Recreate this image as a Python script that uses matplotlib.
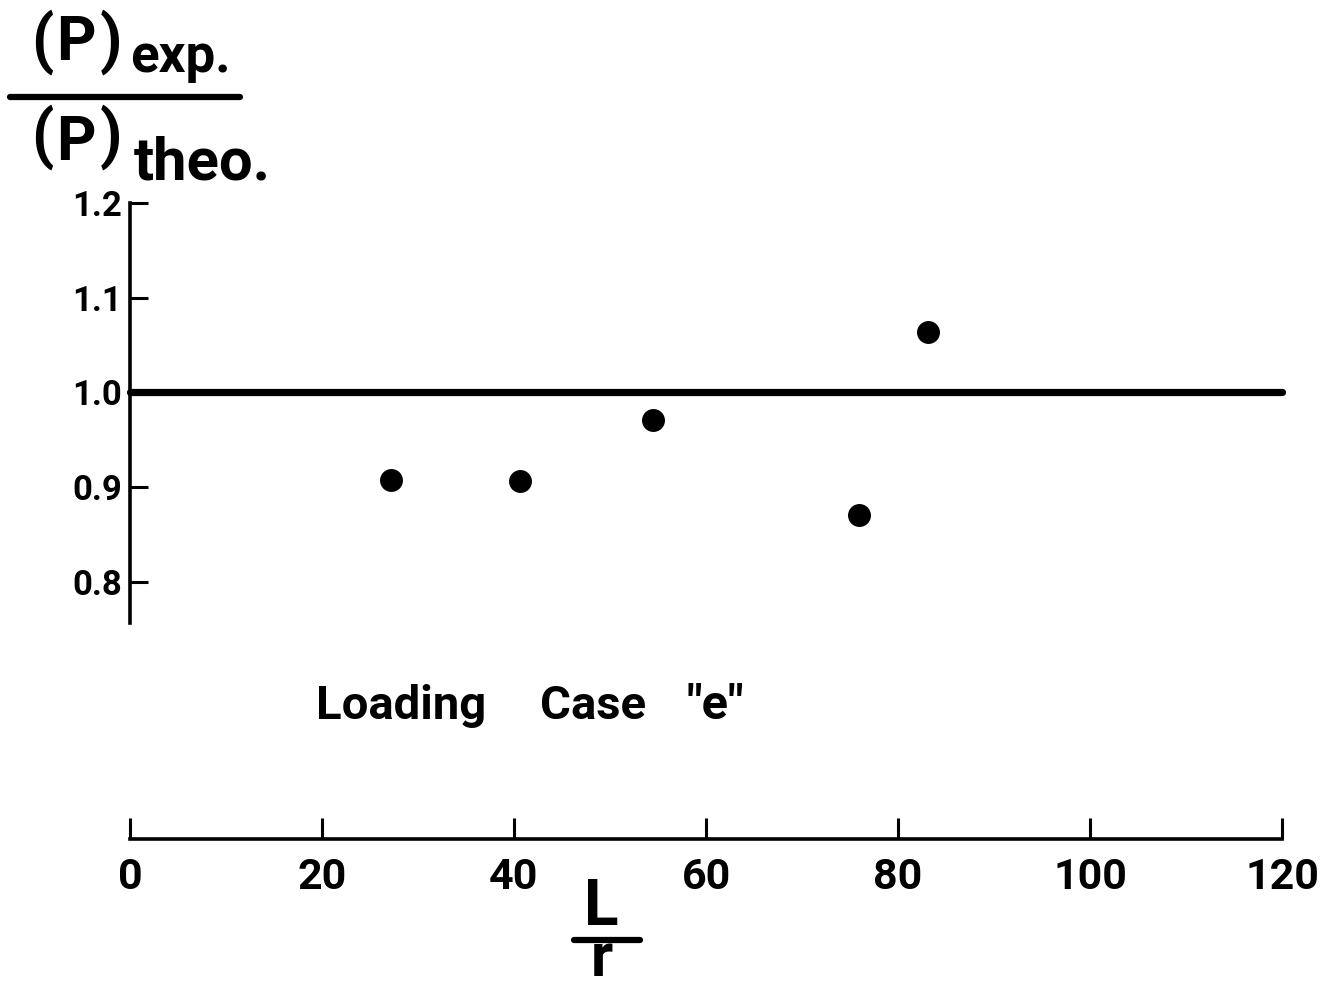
import numpy as np
import matplotlib
matplotlib.use('Agg')
import matplotlib.pyplot as plt
from matplotlib.lines import Line2D

'''DATA'''
slenderness = [27.2, 40.6, 54.5, 75.9, 83.1]
load_ratio = [0.908, 0.906, 0.971, 0.871, 1.064]
theory_x = [0, 120]
theory_y = [1.0, 1.0]
x_ticks = [0, 20, 40, 60, 80, 100, 120]
x_ticklabels = ['0', '20', '40', '60', '80', '100', '120']
y_ticks = [0.8, 0.9, 1.0, 1.1, 1.2]
y_ticklabels = ['0.8', '0.9', '1.0', '1.1', '1.2']

W, H = 1333, 991
plt.rcParams['font.family'] = ['Roboto', 'DejaVu Sans']
plt.rcParams['font.weight'] = 'bold'

fig = plt.figure(figsize=(W / 100, H / 100), dpi=100)
fig.patch.set_facecolor('white')

'''AXES'''
ax = fig.add_axes([130 / W, 1 - 866 / H, 1152 / W, 663 / H])
ax.set_xlim(0, 120)
ax.set_ylim(0.5, 1.2)

ax.plot(theory_x, theory_y, color='black', linewidth=5.2, solid_capstyle='round', clip_on=False)
ax.plot(slenderness, load_ratio, linestyle='none', marker='o', markersize=15.5,
        color='black', clip_on=False)

for side in ['top', 'right']:
    ax.spines[side].set_visible(False)
ax.spines['left'].set_bounds(0.757, 1.2)
ax.spines['bottom'].set_position(('data', 0.529))
ax.spines['bottom'].set_bounds(0, 120)
for side in ['left', 'bottom']:
    ax.spines[side].set_linewidth(2.6)

ax.set_xticks(x_ticks)
ax.set_xticklabels(x_ticklabels)
ax.set_yticks(y_ticks)
ax.set_yticklabels(y_ticklabels)
ax.tick_params(axis='x', direction='in', length=15, width=2.2, pad=13, labelsize=31)
ax.tick_params(axis='y', direction='in', length=13, width=2.2, pad=6, labelsize=25)
for lab in ax.get_xticklabels() + ax.get_yticklabels():
    lab.set_fontweight('bold')

'''LABELS'''
def px(x, y):
    return x / W, 1 - y / H

# y label as a fraction (P)exp. / (P)theo.
for yc, yb in [(42, 60), (137, 160)]:
    fig.text(*px(42, yc), '(', fontsize=46, fontweight='bold', ha='center', va='center')
    fig.text(*px(76, yb), 'P', fontsize=44, fontweight='bold', ha='center', va='baseline')
    fig.text(*px(111, yc), ')', fontsize=46, fontweight='bold', ha='center', va='center')
fig.text(*px(130, 72), 'exp.', fontsize=38, fontweight='bold', ha='left', va='baseline')
fig.add_artist(Line2D([10 / W, 240 / W], [1 - 97 / H, 1 - 97 / H], color='black',
                      linewidth=4.5, solid_capstyle='round'))
fig.text(*px(134, 180), 'theo.', fontsize=43, fontweight='bold', ha='left', va='baseline')

fig.text(*px(316, 706), 'Loading', fontsize=34, fontweight='bold', ha='left', va='center')
fig.text(*px(540, 706), 'Case', fontsize=34, fontweight='bold', ha='left', va='center')
fig.text(*px(686, 706), '"e"', fontsize=35, fontweight='bold', ha='left', va='center')

# x label L / r
fig.text(*px(601, 925), 'L', fontsize=46, fontweight='bold', ha='center', va='baseline')
fig.add_artist(Line2D([574 / W, 640 / W], [1 - 940 / H, 1 - 940 / H], color='black',
                      linewidth=4.5, solid_capstyle='round'))
fig.text(*px(602, 976), 'r', fontsize=44, fontweight='bold', ha='center', va='baseline')

fig.savefig('out.png', dpi=100, facecolor='white')
